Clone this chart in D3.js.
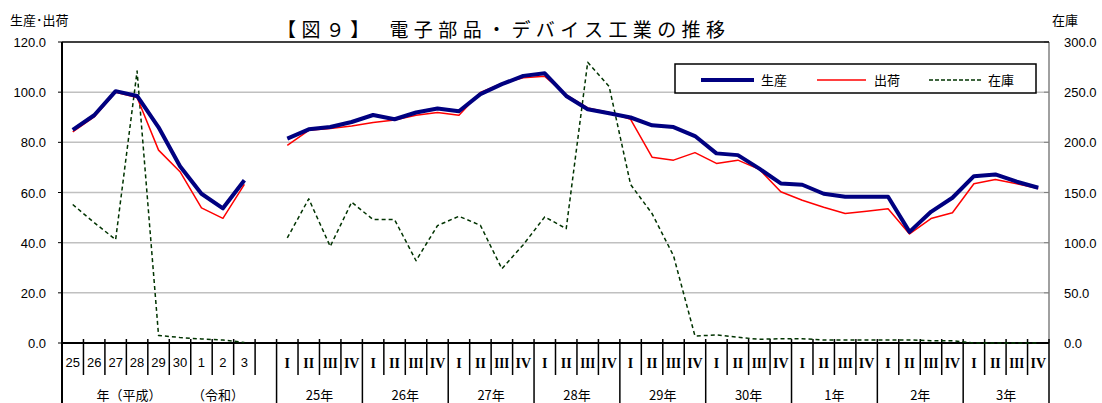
<!DOCTYPE html>
<html>
<head>
<meta charset="utf-8">
<script src="https://cdn.jsdelivr.net/npm/d3@7"></script>
<style>
  body { margin: 0; background: #fff; }
  text { font-family: "Liberation Sans", "Noto Sans CJK JP", sans-serif; fill: #000; }
  .jp { font-family: "Noto Sans CJK JP", sans-serif; }
</style>
</head>
<body>
<svg id="chart" width="1102" height="403"></svg>
<script>
// annual (H25 .. R3) then quarterly (H25 I .. R3 IV)
var annualLabels = ["25", "26", "27", "28", "29", "30", "1", "2", "3"];
var quarterLabels = ["I", "II", "III", "IV"];
var yearLabels = ["25年", "26年", "27年", "28年", "29年", "30年", "1年", "2年", "3年"];

var prodAnnual  = [85.0, 90.8, 100.4, 98.5, 86.0, 70.5, 59.5, 53.7, 64.9];
var shipAnnual  = [84.2, 90.1, 100.0, 97.9, 76.9, 68.3, 53.9, 49.7, 63.2];
var stockAnnual = [138, 120, 103, 271, 7.5, 5.5, 4, 3, 0.5];

var prodQuarter = [81.5, 85.2, 86.1, 88.1, 90.9, 89.2, 91.9, 93.5, 92.4, 99.2, 103.2, 106.5,
                   107.5, 98.5, 93.2, 91.6, 89.9, 86.8, 86.1, 82.5, 75.6, 74.9, 69.5, 63.6,
                   63.1, 59.5, 58.3, 58.3, 58.3, 44.3, 52.3, 57.9, 66.5, 67.2, 64.3, 61.9];
var shipQuarter = [78.8, 84.8, 85.5, 86.5, 87.9, 88.9, 90.8, 91.9, 90.8, 99.9, 103.5, 105.7,
                   106.3, 98.9, 93.7, 91.9, 89.2, 74.1, 72.9, 75.9, 71.6, 72.9, 69.2, 60.3,
                   56.9, 54.1, 51.6, 52.5, 53.5, 43.5, 49.6, 51.9, 63.5, 65.2, 63.5, 61.6];
var stockQuarter = [104.7, 143.7, 96.3, 140.3, 123, 123, 82, 117, 126.3, 117.3, 74, 98,
                    125.7, 114, 279.7, 255.7, 158, 129, 87, 7, 8, 5.7, 3.7, 4.3,
                    4.3, 3, 3, 3, 3, 3, 2.3, 2.3, 0, 0, 0, 0];

var leftTicks = [0, 20, 40, 60, 80, 100, 120];
var rightTicks = [0, 50, 100, 150, 200, 250, 300];

var svg = d3.select("#chart");
var L = 62, R = 1049, T = 42, B = 343;

// slots: 9 annual, 1 blank, 36 quarters
var slots = d3.range(46);
var x = d3.scaleBand().domain(slots).range([L, R]);
var yL = d3.scaleLinear().domain([0, 120]).range([B, T]);
var yR = d3.scaleLinear().domain([0, 300]).range([B, T]);

function cx(i) { return x(i) + x.bandwidth() / 2; }

// gridlines
svg.append("g").selectAll("line")
  .data(leftTicks.filter(function (d) { return d > 0 && d < 120; }))
  .enter().append("line")
  .attr("x1", L).attr("x2", R)
  .attr("y1", yL).attr("y2", yL)
  .attr("stroke", "#c0c0c0").attr("stroke-width", 1.5);

// right axis (gray) + inward ticks
svg.append("line").attr("x1", R).attr("x2", R).attr("y1", T).attr("y2", B)
  .attr("stroke", "#808080").attr("stroke-width", 1.5);
svg.append("g").selectAll("line").data(rightTicks).enter().append("line")
  .attr("x1", R - 5).attr("x2", R).attr("y1", yR).attr("y2", yR)
  .attr("stroke", "#808080").attr("stroke-width", 1);
svg.append("g").selectAll("text").data(rightTicks).enter().append("text")
  .attr("x", 1064).attr("y", function (d) { return yR(d) + 5; })
  .attr("font-size", 13).text(function (d) { return d.toFixed(1); });

// top border
svg.append("line").attr("x1", L).attr("x2", R).attr("y1", T).attr("y2", T)
  .attr("stroke", "#000").attr("stroke-width", 1.5);

// left axis
svg.append("line").attr("x1", L).attr("x2", L).attr("y1", T).attr("y2", 403)
  .attr("stroke", "#000").attr("stroke-width", 2);
svg.append("g").selectAll("line").data(leftTicks).enter().append("line")
  .attr("x1", L - 4).attr("x2", L).attr("y1", yL).attr("y2", yL)
  .attr("stroke", "#000").attr("stroke-width", 1);
svg.append("g").selectAll("text").data(leftTicks).enter().append("text")
  .attr("x", 46).attr("y", function (d) { return yL(d) + 5; })
  .attr("text-anchor", "end").attr("font-size", 13)
  .text(function (d) { return d.toFixed(1); });

// bottom axis + category ticks
svg.append("line").attr("x1", L).attr("x2", R).attr("y1", B).attr("y2", B)
  .attr("stroke", "#000").attr("stroke-width", 2);
var bounds = d3.range(1, 47);
svg.append("g").selectAll("line").data(bounds).enter().append("line")
  .attr("x1", function (i) { return L + i * x.step(); })
  .attr("x2", function (i) { return L + i * x.step(); })
  .attr("y1", 339)
  .attr("y2", function (i) { return (i >= 10 && (i - 10) % 4 === 0) ? 403 : 375; })
  .attr("stroke", "#000").attr("stroke-width", 1.5);

// row 1 labels
svg.append("g").selectAll("text").data(annualLabels).enter().append("text")
  .attr("x", function (d, i) { return cx(i); }).attr("y", 367)
  .attr("text-anchor", "middle").attr("font-size", 13).text(function (d) { return d; });
var qData = d3.range(36).map(function (j) { return { slot: 10 + j, label: quarterLabels[j % 4] }; });
var qText = svg.append("g").selectAll("text").data(qData).enter().append("text")
  .attr("x", function (d) { return cx(d.slot); }).attr("y", 368)
  .attr("text-anchor", "middle")
  .style("font-family", "'Liberation Serif', serif")
  .attr("font-size", 14).attr("font-weight", "bold")
  .text(function (d) { return d.label; });
qText.filter(function (d) { return d.label.length > 2; })
  .attr("textLength", 15).attr("lengthAdjust", "spacingAndGlyphs");

// row 2 labels
svg.append("text").attr("class", "jp").attr("x", 129).attr("y", 400)
  .attr("text-anchor", "middle").attr("font-size", 13).text("年（平成）");
svg.append("text").attr("class", "jp").attr("x", 218).attr("y", 400)
  .attr("text-anchor", "middle").attr("font-size", 13).text("（令和）");
svg.append("g").selectAll("text").data(yearLabels).enter().append("text")
  .attr("class", "jp")
  .attr("x", function (d, k) { return L + (10 + k * 4 + 2) * x.step(); }).attr("y", 400)
  .attr("text-anchor", "middle").attr("font-size", 13).text(function (d) { return d; });

// series
function pts(arr, offset) { return arr.map(function (v, i) { return [offset + i, v]; }); }
var series = [
  { name: "在庫", parts: [pts(stockAnnual, 0), pts(stockQuarter, 10)], y: yR, color: "#003300", width: 1.5, dash: "4,3" },
  { name: "出荷", parts: [pts(shipAnnual, 0), pts(shipQuarter, 10)], y: yL, color: "#ff0000", width: 1.5, dash: null },
  { name: "生産", parts: [pts(prodAnnual, 0), pts(prodQuarter, 10)], y: yL, color: "#000080", width: 4, dash: null }
];
series.forEach(function (s) {
  var line = d3.line().x(function (d) { return cx(d[0]); }).y(function (d) { return s.y(d[1]); });
  s.parts.forEach(function (p) {
    svg.append("path").attr("d", line(p)).attr("fill", "none")
      .attr("stroke", s.color).attr("stroke-width", s.width)
      .attr("stroke-linejoin", "round")
      .attr("stroke-dasharray", s.dash);
  });
});

// legend
var lg = svg.append("g");
lg.append("rect").attr("x", 675).attr("y", 64).attr("width", 361).attr("height", 29)
  .attr("fill", "#fff").attr("stroke", "#000").attr("stroke-width", 1.5);
var legendItems = [
  { name: "生産", x1: 701, x2: 754, tx: 761, color: "#000080", width: 4, dash: null },
  { name: "出荷", x1: 817, x2: 866, tx: 874, color: "#ff0000", width: 1.5, dash: null },
  { name: "在庫", x1: 929, x2: 981, tx: 988, color: "#003300", width: 1.5, dash: "4,2" }
];
legendItems.forEach(function (d) {
  lg.append("line").attr("x1", d.x1).attr("x2", d.x2).attr("y1", 80).attr("y2", 80)
    .attr("stroke", d.color).attr("stroke-width", d.width).attr("stroke-dasharray", d.dash);
  lg.append("text").attr("class", "jp").attr("x", d.tx).attr("y", 85)
    .attr("font-size", 13).text(d.name);
});

// titles
svg.append("text").attr("class", "jp").attr("x", 10).attr("y", 25)
  .attr("font-size", 13).text("生産･出荷");
svg.append("text").attr("class", "jp").attr("x", 1052).attr("y", 25)
  .attr("font-size", 13).text("在庫");
svg.append("text").attr("class", "jp").attr("x", 277).attr("y", 37)
  .attr("font-size", 19).attr("font-weight", "normal")
  .attr("textLength", 448).attr("lengthAdjust", "spacing")
  .text("【図９】　電子部品・デバイス工業の推移");
</script>
</body>
</html>
